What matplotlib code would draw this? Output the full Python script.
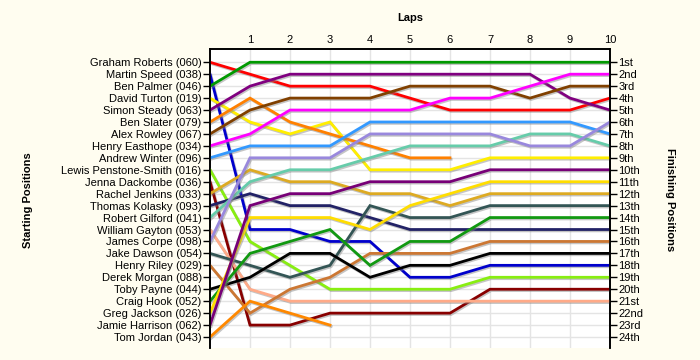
import numpy as np
import matplotlib
matplotlib.use("Agg")
import matplotlib.pyplot as plt
import matplotlib.patheffects as pe

plt.rcParams['font.family'] = ['Liberation Sans', 'DejaVu Sans']

laps = list(range(0, 11))

drivers = [
    "Graham Roberts (060)", "Martin Speed (038)", "Ben Palmer (046)",
    "David Turton (019)", "Simon Steady (063)", "Ben Slater (079)",
    "Alex Rowley (067)", "Henry Easthope (034)", "Andrew Winter (096)",
    "Lewis Penstone-Smith (016)", "Jenna Dackombe (036)", "Rachel Jenkins (033)",
    "Thomas Kolasky (093)", "Robert Gilford (041)", "William Gayton (053)",
    "James Corpe (098)", "Jake Dawson (054)", "Henry Riley (029)",
    "Derek Morgan (088)", "Toby Payne (044)", "Craig Hook (052)",
    "Greg Jackson (026)", "Jamie Harrison (062)", "Tom Jordan (043)",
]

finish_labels = ["1st", "2nd", "3rd"] + [f"{i}th" for i in range(4, 21)] + \
    ["21st", "22nd", "23rd", "24th"]

# position of each driver after each lap (None = retired)
positions = [
    [1, 2, 3, 3, 3, 4, 5, 5, 5, 5, 4],
    [2, 15, 15, 16, 16, 19, 19, 18, 18, 18, 18],
    [3, 1, 1, 1, 1, 1, 1, 1, 1, 1, 1],
    [4, 6, 7, 6, 10, 10, 10, 9, 9, 9, 9],
    [5, 3, 2, 2, 2, 2, 2, 2, 2, 4, 5],
    [6, 4, 6, 7, 8, 9, 9, None, None, None, None],
    [7, 5, 4, 4, 4, 3, 3, 3, 4, 3, 3],
    [8, 7, 5, 5, 5, 5, 4, 4, 3, 2, 2],
    [9, 8, 8, 8, 6, 6, 6, 6, 6, 6, 7],
    [10, 16, 18, 20, 20, 20, 20, 19, 19, 19, 19],
    [11, 23, 23, 22, 22, 22, 22, 20, 20, 20, 20],
    [12, 10, 11, 11, 12, 12, 13, 12, 12, 12, 12],
    [13, 12, 13, 13, 14, 15, 15, 15, 15, 15, 15],
    [14, 11, 10, 10, 9, 8, 8, 8, 7, 7, 8],
    [15, 20, 21, 21, 21, 21, 21, 21, 21, 21, 21],
    [16, 9, 9, 9, 7, 7, 7, 7, 8, 8, 6],
    [17, 18, 19, 18, 13, 14, 14, 13, 13, 13, 13],
    [18, 22, 20, 19, 17, 17, 17, 16, 16, 16, 16],
    [None] * 11,
    [20, 19, 17, 17, 19, 18, 18, 17, 17, 17, 17],
    [21, 17, 16, 15, 18, 16, 16, 14, 14, 14, 14],
    [22, 14, 14, 14, 15, 13, 12, 11, 11, 11, 11],
    [23, 13, 12, 12, 11, 11, 11, 10, 10, 10, 10],
    [24, 21, 22, 23, None, None, None, None, None, None, None],
]

colors = [
    "#ff0000", "#0000cc", "#009900", "#ffee00", "#800080", "#ff8000",
    "#804000", "#ff00ff", "#3399ff", "#88ee11", "#880000", "#ddaa22",
    "#222266", "#66ccaa", "#ffaa88", "#9988dd", "#335555", "#cc7733",
    "#ffffff", "#000000", "#119911", "#ffdd00", "#770077", "#ff8800",
]

fig = plt.figure(figsize=(7, 3.6), dpi=100, facecolor="#fffdf0")
ax = fig.add_axes([0.3, 0.0333, 0.5714, 0.8306])
ax.set_facecolor("white")

shadow = [pe.SimpleLineShadow(offset=(0.8, -1.0), shadow_color="gray", alpha=0.45),
          pe.Normal()]

for pos, color in zip(positions, colors):
    y = np.array([np.nan if p is None else p for p in pos], dtype=float)
    if np.all(np.isnan(y)):
        continue
    ax.plot(laps, y, color=color, linewidth=2.0, solid_joinstyle="miter",
            path_effects=shadow, zorder=3)

n = len(drivers)
ax.set_xlim(0, 10)
ax.set_ylim(24.92, -0.11)

ax.set_xticks(laps[1:])
ax.xaxis.tick_top()
ax.tick_params(axis="x", length=0, pad=3, labelsize=8)

ax.set_yticks(range(1, n + 1))
ax.set_yticklabels(drivers, fontsize=8)
ax.tick_params(axis="y", length=5, width=1, pad=1, direction="out")

ax2 = ax.twinx()
ax2.set_ylim(ax.get_ylim())
ax2.set_yticks(range(1, n + 1))
ax2.set_yticklabels(finish_labels, fontsize=8)
ax2.tick_params(axis="y", length=5, width=1, pad=1, direction="out")

ax.grid(True, color="#e4e4e4", linewidth=1)
ax.set_axisbelow(True)
for a in (ax, ax2):
    a.spines["bottom"].set_visible(False)
    a.spines["left"].set_linewidth(1.2)
    a.spines["right"].set_linewidth(1.2)
    a.spines["top"].set_linewidth(1.2)

fig.text(410 / 700, 1 - 18 / 360, "Laps", fontsize=8, fontweight="bold",
         ha="center", va="center")
fig.text(28 / 700, 1 - 200 / 360, "Starting Positions", fontsize=8,
         fontweight="bold", rotation=90, ha="center", va="center")
fig.text(670 / 700, 1 - 200 / 360, "Finishing Positions", fontsize=8,
         fontweight="bold", rotation=270, ha="center", va="center")

fig.savefig("out.png", dpi=100, facecolor=fig.get_facecolor())
